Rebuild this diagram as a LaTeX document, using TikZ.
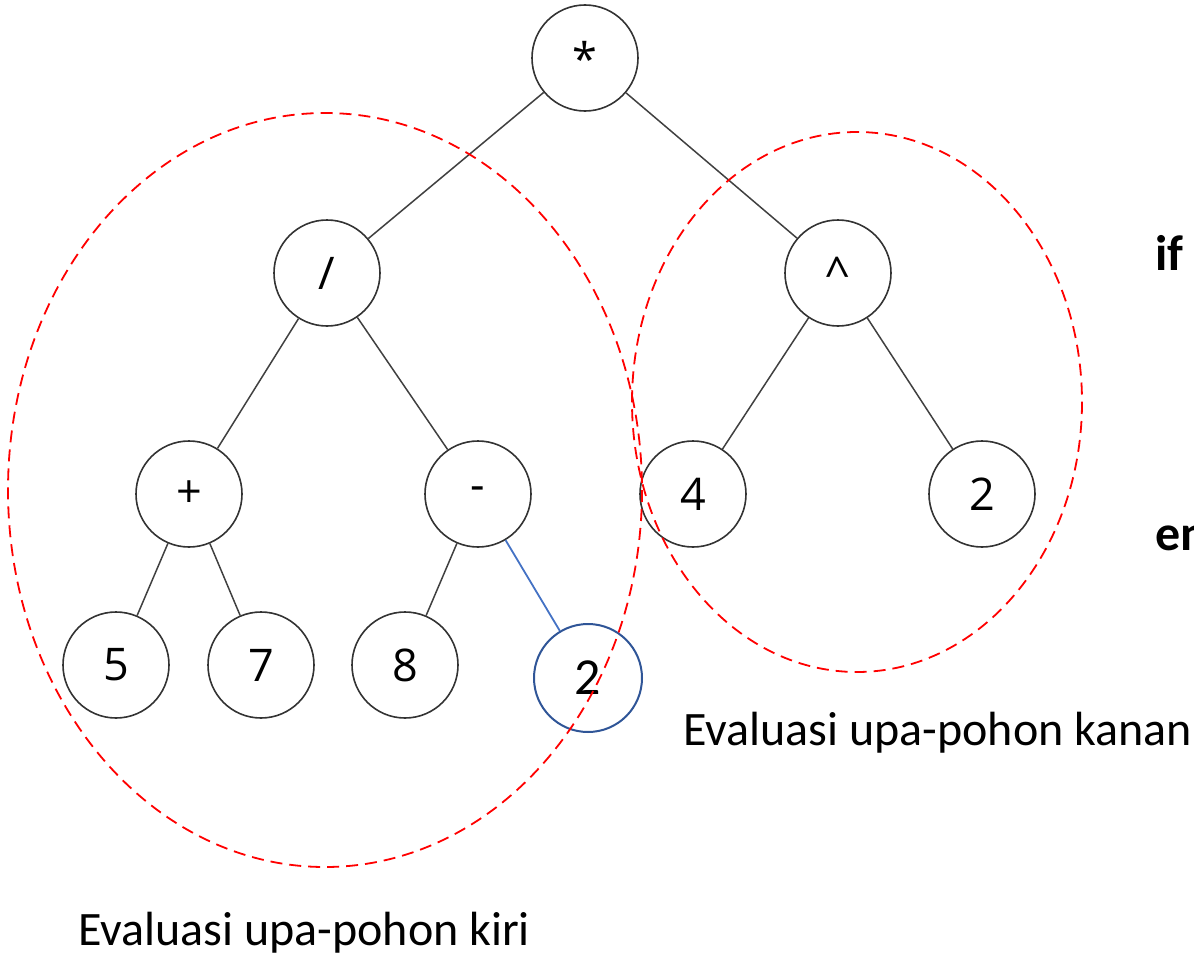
\documentclass[tikz,border=0pt]{standalone}
\usepackage{fontspec}
\setmainfont{Carlito}
\newfontfamily\nodefont{Open Sans}
\definecolor{bcirc}{RGB}{47,85,151}
\definecolor{bline}{RGB}{68,114,196}
\begin{document}
\begin{tikzpicture}[x=1pt,y=-1pt,
  tnode/.style={circle,draw=black!80,line width=1.6pt,minimum size=106pt,inner sep=0pt,font=\nodefont\fontsize{45}{45}\selectfont},
  bnode/.style={circle,draw=bcirc,line width=2pt,minimum size=108pt,inner sep=0pt,font=\fontsize{52}{52}\selectfont},
  edge/.style={draw=black!75,line width=1.5pt},
  bedge/.style={draw=bline,line width=1.8pt},
  redell/.style={draw=red,line width=1.8pt,dash pattern=on 12pt off 7pt},
  lbl/.style={font=\fontsize{48}{48}\selectfont,inner sep=0pt,anchor=base west},
  bold/.style={font=\bfseries\fontsize{50}{50}\selectfont,inner sep=0pt,anchor=base west}]
\useasboundingbox (0,0) rectangle (1194,953);
\node[tnode] (mul) at (585,58) {*};
\node[tnode] (div) at (327,273) {/};
\node[tnode] (pow) at (838,273) {\^{}};
\node[tnode] (plus) at (189,494) {+};
\node[tnode] (minus) at (478,494) {-};
\node[tnode] (four) at (693,494) {4};
\node[tnode] (two) at (982,494) {2};
\node[tnode] (five) at (116,665) {5};
\node[tnode] (seven) at (261,665) {7};
\node[tnode] (eight) at (405,665) {8};
\node[bnode] (btwo) at (588,678) {2};
\draw[edge] (mul) -- (div);
\draw[edge] (mul) -- (pow);
\draw[edge] (div) -- (plus);
\draw[edge] (div) -- (minus);
\draw[edge] (pow) -- (four);
\draw[edge] (pow) -- (two);
\draw[edge] (plus) -- (five);
\draw[edge] (plus) -- (seven);
\draw[edge] (minus) -- (eight);
\draw[bedge] (minus) -- (btwo);
\draw[redell] (325,490) ellipse [x radius=317, y radius=377];
\draw[redell] (857,402) ellipse [x radius=225, y radius=270];
\node[lbl] (kanan) at (683,745) {Evaluasi upa-pohon kanan};
\node[lbl] (kiri) at (78,945) {Evaluasi upa-pohon kiri};
\node[bold] (if) at (1155,270) {if};
\node[bold] (en) at (1155,550) {en};
\end{tikzpicture}
\end{document}
